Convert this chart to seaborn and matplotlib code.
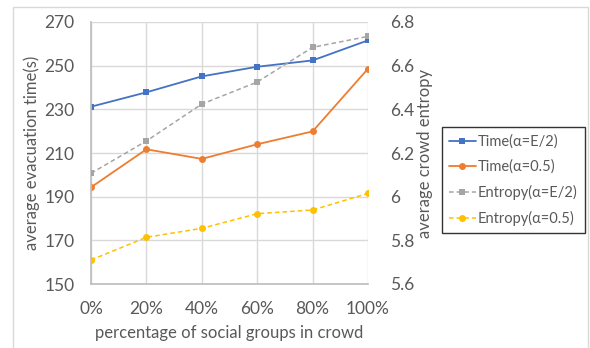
import matplotlib
matplotlib.use("Agg")
import matplotlib.pyplot as plt
from matplotlib.patches import Rectangle
import seaborn as sns
import pandas as pd

# Chart data
groups = ["0%", "20%", "40%", "60%", "80%", "100%"]
time_e2 = [231.2, 237.8, 245.1, 249.5, 252.4, 261.6]
time_05 = [194.3, 211.7, 207.3, 214.0, 219.9, 248.6]
entropy_e2 = [6.107, 6.255, 6.424, 6.525, 6.684, 6.734]
entropy_05 = [5.710, 5.814, 5.855, 5.922, 5.939, 6.015]

left_ticks = [150, 170, 190, 210, 230, 250, 270]
right_ticks = [5.6, 5.8, 6.0, 6.2, 6.4, 6.6, 6.8]
right_tick_labels = ["5.6", "5.8", "6", "6.2", "6.4", "6.6", "6.8"]

sns.set_theme(style="white")
plt.rcParams["font.family"] = ["Lato", "DejaVu Sans"]

TEXT = "#595959"
GRID = "#d9d9d9"

x = list(range(len(groups)))
df_time = pd.DataFrame({
    "x": x * 2,
    "value": time_e2 + time_05,
    "series": ["Time(α=E/2)"] * 6 + ["Time(α=0.5)"] * 6,
})
df_ent = pd.DataFrame({
    "x": x * 2,
    "value": entropy_e2 + entropy_05,
    "series": ["Entropy(α=E/2)"] * 6 + ["Entropy(α=0.5)"] * 6,
})

fig = plt.figure(figsize=(5.9, 3.48), dpi=100)
fig.patch.set_facecolor("white")
# outer chart border
fig.patches.append(Rectangle((13 / 590, -0.05), (588 - 13) / 590, 1 - 7 / 348 + 0.05,
                             transform=fig.transFigure, fill=False,
                             edgecolor="#d9d9d9", linewidth=1.0))

ax = fig.add_axes([91 / 590, 1 - 284 / 348, (368 - 91) / 590, (284 - 22) / 348])
ax2 = ax.twinx()

sns.lineplot(data=df_time, x="x", y="value", hue="series", style="series",
             palette={"Time(α=E/2)": "#4472C4", "Time(α=0.5)": "#ED7D31"},
             markers={"Time(α=E/2)": "s", "Time(α=0.5)": "o"},
             dashes={"Time(α=E/2)": "", "Time(α=0.5)": ""},
             markersize=5, markeredgewidth=0, linewidth=1.3, ax=ax, legend=False)
sns.lineplot(data=df_ent, x="x", y="value", hue="series", style="series",
             palette={"Entropy(α=E/2)": "#A5A5A5", "Entropy(α=0.5)": "#FFC000"},
             markers={"Entropy(α=E/2)": "s", "Entropy(α=0.5)": "o"},
             dashes={"Entropy(α=E/2)": (3, 2), "Entropy(α=0.5)": (3, 2)},
             markersize=5, markeredgewidth=0, linewidth=1.1, ax=ax2, legend=False)

ax.set_xlim(0, len(groups) - 1)
ax.set_ylim(150, 270)
ax2.set_ylim(5.6, 6.8)
ax.set_xticks(x)
ax.set_xticklabels(groups)
ax.set_yticks(left_ticks)
ax2.set_yticks(right_ticks)
ax2.set_yticklabels(right_tick_labels)

ax.grid(True, color=GRID, linewidth=1.0)
ax.set_axisbelow(True)
for a in (ax, ax2):
    for s in a.spines.values():
        s.set_visible(False)
    a.tick_params(length=0, labelsize=12.5, colors=TEXT)
ax.spines["left"].set_visible(True)
ax.spines["left"].set_color("#bfbfbf")
ax.spines["bottom"].set_visible(True)
ax.spines["bottom"].set_color("#bfbfbf")
ax.tick_params(axis="x", pad=12)
ax.tick_params(axis="y", pad=12)
ax2.tick_params(axis="y", pad=16)

ax.set_xlabel("percentage of social groups in crowd", fontsize=12, color=TEXT, labelpad=6)
ax.set_ylabel("average evacuation time(s)", fontsize=12, color=TEXT, labelpad=3)
ax2.set_ylabel("average crowd entropy", fontsize=12, color=TEXT, labelpad=2)

handles = ax.get_lines()[:2] + ax2.get_lines()[:2]
labels = ["Time(α=E/2)", "Time(α=0.5)", "Entropy(α=E/2)", "Entropy(α=0.5)"]
leg = fig.legend(handles, labels, loc="upper left",
                 bbox_to_anchor=(442 / 590, 1 - 127 / 348),
                 frameon=True, fancybox=False, fontsize=10.5,
                 handlelength=1.8, handletextpad=0.15, labelspacing=0.75,
                 borderpad=0.5, borderaxespad=0)
leg.get_frame().set_edgecolor("black")
leg.get_frame().set_linewidth(1.0)
for t in leg.get_texts():
    t.set_color(TEXT)

fig.savefig("out.png", dpi=100)
